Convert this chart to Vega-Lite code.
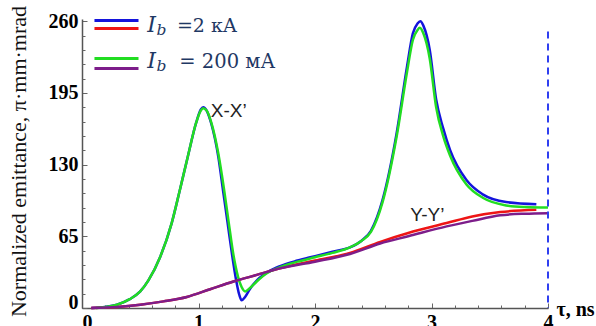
{
  "$schema": "https://vega.github.io/schema/vega-lite/v6.json",
  "width": 466,
  "height": 289,
  "autosize": "none",
  "padding": {"left": 82, "top": 19, "right": 48, "bottom": 18},
  "background": "white",
  "config": {"view": {"stroke": null}, "axis": {"grid": false}},
  "resolve": {"axis": {"x": "independent", "y": "independent"}},
  "layer": [
    {
      "data": {"values": [
        {"series": "2 kA X-X'", "tau": 0.08, "emittance": 0},
        {"series": "2 kA X-X'", "tau": 0.2, "emittance": 1},
        {"series": "2 kA X-X'", "tau": 0.3, "emittance": 3},
        {"series": "2 kA X-X'", "tau": 0.41, "emittance": 8},
        {"series": "2 kA X-X'", "tau": 0.5, "emittance": 15},
        {"series": "2 kA X-X'", "tau": 0.57, "emittance": 25},
        {"series": "2 kA X-X'", "tau": 0.67, "emittance": 46},
        {"series": "2 kA X-X'", "tau": 0.77, "emittance": 77},
        {"series": "2 kA X-X'", "tau": 0.84, "emittance": 107},
        {"series": "2 kA X-X'", "tau": 0.91, "emittance": 138},
        {"series": "2 kA X-X'", "tau": 0.98, "emittance": 168},
        {"series": "2 kA X-X'", "tau": 1.02, "emittance": 180},
        {"series": "2 kA X-X'", "tau": 1.04, "emittance": 182},
        {"series": "2 kA X-X'", "tau": 1.07, "emittance": 179},
        {"series": "2 kA X-X'", "tau": 1.11, "emittance": 167},
        {"series": "2 kA X-X'", "tau": 1.17, "emittance": 137},
        {"series": "2 kA X-X'", "tau": 1.21, "emittance": 107},
        {"series": "2 kA X-X'", "tau": 1.25, "emittance": 77},
        {"series": "2 kA X-X'", "tau": 1.29, "emittance": 47},
        {"series": "2 kA X-X'", "tau": 1.32, "emittance": 27},
        {"series": "2 kA X-X'", "tau": 1.35, "emittance": 12},
        {"series": "2 kA X-X'", "tau": 1.37, "emittance": 7},
        {"series": "2 kA X-X'", "tau": 1.4, "emittance": 10},
        {"series": "2 kA X-X'", "tau": 1.44, "emittance": 17},
        {"series": "2 kA X-X'", "tau": 1.52, "emittance": 27},
        {"series": "2 kA X-X'", "tau": 1.6, "emittance": 33},
        {"series": "2 kA X-X'", "tau": 1.7, "emittance": 38},
        {"series": "2 kA X-X'", "tau": 1.85, "emittance": 43},
        {"series": "2 kA X-X'", "tau": 2.0, "emittance": 47},
        {"series": "2 kA X-X'", "tau": 2.15, "emittance": 51},
        {"series": "2 kA X-X'", "tau": 2.3, "emittance": 55},
        {"series": "2 kA X-X'", "tau": 2.4, "emittance": 61},
        {"series": "2 kA X-X'", "tau": 2.48, "emittance": 70},
        {"series": "2 kA X-X'", "tau": 2.58, "emittance": 98},
        {"series": "2 kA X-X'", "tau": 2.7, "emittance": 158},
        {"series": "2 kA X-X'", "tau": 2.79, "emittance": 219},
        {"series": "2 kA X-X'", "tau": 2.84, "emittance": 249},
        {"series": "2 kA X-X'", "tau": 2.88, "emittance": 258},
        {"series": "2 kA X-X'", "tau": 2.905, "emittance": 260},
        {"series": "2 kA X-X'", "tau": 2.93, "emittance": 256},
        {"series": "2 kA X-X'", "tau": 2.985, "emittance": 234},
        {"series": "2 kA X-X'", "tau": 3.04, "emittance": 189},
        {"series": "2 kA X-X'", "tau": 3.1, "emittance": 163},
        {"series": "2 kA X-X'", "tau": 3.16, "emittance": 143},
        {"series": "2 kA X-X'", "tau": 3.3, "emittance": 116},
        {"series": "2 kA X-X'", "tau": 3.44, "emittance": 103},
        {"series": "2 kA X-X'", "tau": 3.64, "emittance": 96},
        {"series": "2 kA X-X'", "tau": 3.9, "emittance": 94},

        {"series": "2 kA Y-Y'", "tau": 0.08, "emittance": 0},
        {"series": "2 kA Y-Y'", "tau": 0.3, "emittance": 1},
        {"series": "2 kA Y-Y'", "tau": 0.5, "emittance": 3},
        {"series": "2 kA Y-Y'", "tau": 0.7, "emittance": 6},
        {"series": "2 kA Y-Y'", "tau": 0.9, "emittance": 10},
        {"series": "2 kA Y-Y'", "tau": 1.1, "emittance": 17},
        {"series": "2 kA Y-Y'", "tau": 1.3, "emittance": 24},
        {"series": "2 kA Y-Y'", "tau": 1.5, "emittance": 30},
        {"series": "2 kA Y-Y'", "tau": 1.7, "emittance": 36},
        {"series": "2 kA Y-Y'", "tau": 2.0, "emittance": 43},
        {"series": "2 kA Y-Y'", "tau": 2.3, "emittance": 50},
        {"series": "2 kA Y-Y'", "tau": 2.56, "emittance": 60},
        {"series": "2 kA Y-Y'", "tau": 2.8, "emittance": 68},
        {"series": "2 kA Y-Y'", "tau": 3.13, "emittance": 77},
        {"series": "2 kA Y-Y'", "tau": 3.35, "emittance": 83},
        {"series": "2 kA Y-Y'", "tau": 3.59, "emittance": 87},
        {"series": "2 kA Y-Y'", "tau": 3.9, "emittance": 89},

        {"series": "200 mA X-X'", "tau": 0.12, "emittance": 0},
        {"series": "200 mA X-X'", "tau": 0.2, "emittance": 1},
        {"series": "200 mA X-X'", "tau": 0.3, "emittance": 3},
        {"series": "200 mA X-X'", "tau": 0.41, "emittance": 8},
        {"series": "200 mA X-X'", "tau": 0.5, "emittance": 15},
        {"series": "200 mA X-X'", "tau": 0.57, "emittance": 25},
        {"series": "200 mA X-X'", "tau": 0.67, "emittance": 46},
        {"series": "200 mA X-X'", "tau": 0.77, "emittance": 77},
        {"series": "200 mA X-X'", "tau": 0.84, "emittance": 107},
        {"series": "200 mA X-X'", "tau": 0.91, "emittance": 138},
        {"series": "200 mA X-X'", "tau": 0.98, "emittance": 168},
        {"series": "200 mA X-X'", "tau": 1.02, "emittance": 179},
        {"series": "200 mA X-X'", "tau": 1.04, "emittance": 181},
        {"series": "200 mA X-X'", "tau": 1.07, "emittance": 179},
        {"series": "200 mA X-X'", "tau": 1.11, "emittance": 168},
        {"series": "200 mA X-X'", "tau": 1.17, "emittance": 140},
        {"series": "200 mA X-X'", "tau": 1.22, "emittance": 107},
        {"series": "200 mA X-X'", "tau": 1.26, "emittance": 77},
        {"series": "200 mA X-X'", "tau": 1.3, "emittance": 48},
        {"series": "200 mA X-X'", "tau": 1.34, "emittance": 28},
        {"series": "200 mA X-X'", "tau": 1.37, "emittance": 19},
        {"series": "200 mA X-X'", "tau": 1.4, "emittance": 15},
        {"series": "200 mA X-X'", "tau": 1.44, "emittance": 18},
        {"series": "200 mA X-X'", "tau": 1.5, "emittance": 24},
        {"series": "200 mA X-X'", "tau": 1.58, "emittance": 31},
        {"series": "200 mA X-X'", "tau": 1.7, "emittance": 37},
        {"series": "200 mA X-X'", "tau": 1.85, "emittance": 42},
        {"series": "200 mA X-X'", "tau": 2.0, "emittance": 46},
        {"series": "200 mA X-X'", "tau": 2.15, "emittance": 50},
        {"series": "200 mA X-X'", "tau": 2.3, "emittance": 55},
        {"series": "200 mA X-X'", "tau": 2.4, "emittance": 61},
        {"series": "200 mA X-X'", "tau": 2.48, "emittance": 69},
        {"series": "200 mA X-X'", "tau": 2.58, "emittance": 96},
        {"series": "200 mA X-X'", "tau": 2.7, "emittance": 155},
        {"series": "200 mA X-X'", "tau": 2.79, "emittance": 214},
        {"series": "200 mA X-X'", "tau": 2.84, "emittance": 243},
        {"series": "200 mA X-X'", "tau": 2.88, "emittance": 252},
        {"series": "200 mA X-X'", "tau": 2.9, "emittance": 254},
        {"series": "200 mA X-X'", "tau": 2.93, "emittance": 249},
        {"series": "200 mA X-X'", "tau": 2.985, "emittance": 226},
        {"series": "200 mA X-X'", "tau": 3.04, "emittance": 182},
        {"series": "200 mA X-X'", "tau": 3.1, "emittance": 156},
        {"series": "200 mA X-X'", "tau": 3.16, "emittance": 138},
        {"series": "200 mA X-X'", "tau": 3.3, "emittance": 112},
        {"series": "200 mA X-X'", "tau": 3.44, "emittance": 100},
        {"series": "200 mA X-X'", "tau": 3.64, "emittance": 93},
        {"series": "200 mA X-X'", "tau": 3.8, "emittance": 91.5},
        {"series": "200 mA X-X'", "tau": 4.0, "emittance": 91},

        {"series": "200 mA Y-Y'", "tau": 0.08, "emittance": 0},
        {"series": "200 mA Y-Y'", "tau": 0.3, "emittance": 1},
        {"series": "200 mA Y-Y'", "tau": 0.5, "emittance": 3},
        {"series": "200 mA Y-Y'", "tau": 0.7, "emittance": 6},
        {"series": "200 mA Y-Y'", "tau": 0.9, "emittance": 10},
        {"series": "200 mA Y-Y'", "tau": 1.1, "emittance": 17},
        {"series": "200 mA Y-Y'", "tau": 1.3, "emittance": 24},
        {"series": "200 mA Y-Y'", "tau": 1.5, "emittance": 30},
        {"series": "200 mA Y-Y'", "tau": 1.7, "emittance": 36},
        {"series": "200 mA Y-Y'", "tau": 2.0, "emittance": 42},
        {"series": "200 mA Y-Y'", "tau": 2.3, "emittance": 49},
        {"series": "200 mA Y-Y'", "tau": 2.56, "emittance": 58.5},
        {"series": "200 mA Y-Y'", "tau": 2.8, "emittance": 65},
        {"series": "200 mA Y-Y'", "tau": 3.13, "emittance": 74},
        {"series": "200 mA Y-Y'", "tau": 3.35, "emittance": 79},
        {"series": "200 mA Y-Y'", "tau": 3.59, "emittance": 84},
        {"series": "200 mA Y-Y'", "tau": 3.8, "emittance": 85.5},
        {"series": "200 mA Y-Y'", "tau": 4.0, "emittance": 86}
      ]},
      "mark": {"type": "line", "strokeWidth": 2.5, "interpolate": "monotone"},
      "encoding": {
        "x": {
          "field": "tau", "type": "quantitative",
          "scale": {"domain": [0, 4], "nice": false, "zero": false},
          "axis": {
            "orient": "bottom",
            "values": [0, 1, 2, 3, 4],
            "format": "d",
            "grid": false,
            "domainColor": "#555", "domainWidth": 1.5,
            "tickColor": "#666", "tickWidth": 1, "tickSize": -5,
            "labelFont": "Liberation Serif", "labelFontWeight": "bold", "labelFontSize": 20, "labelColor": "black",
            "labelPadding": 9, "labelOverlap": false, "labelFlush": false,
            "labelOffset": {"condition": {"test": "datum.value === 0", "value": 5}, "value": 0},
            "title": "τ, ns",
            "titleFont": "Liberation Serif", "titleFontWeight": "bold", "titleFontSize": 20, "titleColor": "black",
            "titleX": 474, "titleY": 7, "titleAlign": "left", "titleBaseline": "alphabetic", "titleAngle": 0
          }
        },
        "y": {
          "field": "emittance", "type": "quantitative",
          "scale": {"domain": [0, 262], "nice": false, "zero": false},
          "axis": {
            "orient": "left",
            "values": [0, 65, 130, 195, 260],
            "format": "d",
            "grid": false,
            "domainColor": "#555", "domainWidth": 1.5,
            "tickColor": "#666", "tickWidth": 1, "tickSize": -5,
            "labelFont": "Liberation Serif", "labelFontWeight": "bold", "labelFontSize": 20, "labelColor": "black",
            "labelPadding": 9, "labelOverlap": false, "labelFlush": false,
            "labelOffset": {"condition": {"test": "datum.value === 0", "value": -6}, "value": 0},
            "title": "Normalized emittance, π·mm·mrad",
            "titleFont": "Liberation Serif", "titleFontWeight": "normal", "titleFontSize": 22, "titleColor": "#111",
            "titleX": -57, "titleY": 142, "titleAngle": -90, "titleAlign": "center", "titleBaseline": "alphabetic"
          }
        },
        "color": {
          "field": "series", "type": "nominal",
          "scale": {"domain": ["2 kA X-X'", "2 kA Y-Y'", "200 mA X-X'", "200 mA Y-Y'"], "range": ["#1414dc", "#ee1515", "#22dd22", "#7d1d8a"]},
          "legend": null
        }
      }
    },
    {
      "data": {"values": [{}]},
      "mark": {"type": "rule", "color": "#2f3ff0", "strokeWidth": 2, "strokeDash": [7, 5]},
      "encoding": {
        "x": {"datum": 4, "type": "quantitative", "axis": {"orient": "bottom", "values": [0.2, 0.4, 0.6, 0.8, 1.2, 1.4, 1.6, 1.8, 2.2, 2.4, 2.6, 2.8, 3.2, 3.4, 3.6, 3.8], "domain": false, "labels": false, "title": null, "grid": false, "tickSize": -3, "tickColor": "#666", "tickWidth": 1}},
        "y": {"datum": 250.6, "type": "quantitative", "axis": {"orient": "left", "values": [13, 26, 39, 52, 78, 91, 104, 117, 143, 156, 169, 182, 208, 221, 234, 247], "domain": false, "labels": false, "title": null, "grid": false, "tickSize": -3, "tickColor": "#666", "tickWidth": 1}},
        "y2": {"datum": 0}
      }
    },
    {
      "data": {"values": [{}]},
      "mark": {"type": "rule", "color": "#1414dc", "strokeWidth": 3},
      "encoding": {
        "x": {"datum": 0.107, "type": "quantitative", "axis": {"orient": "bottom", "domain": false, "ticks": false, "labels": false, "title": null, "grid": false}},
        "x2": {"datum": 0.485},
        "y": {"datum": 260.6, "type": "quantitative", "axis": {"orient": "left", "domain": false, "ticks": false, "labels": false, "title": null, "grid": false}}
      }
    },
    {
      "data": {"values": [{}]},
      "mark": {"type": "rule", "color": "#ee1515", "strokeWidth": 3},
      "encoding": {
        "x": {"datum": 0.107, "type": "quantitative", "axis": {"orient": "bottom", "domain": false, "ticks": false, "labels": false, "title": null, "grid": false}},
        "x2": {"datum": 0.485},
        "y": {"datum": 253.3, "type": "quantitative", "axis": {"orient": "left", "domain": false, "ticks": false, "labels": false, "title": null, "grid": false}}
      }
    },
    {
      "data": {"values": [{}]},
      "mark": {"type": "rule", "color": "#22dd22", "strokeWidth": 3},
      "encoding": {
        "x": {"datum": 0.107, "type": "quantitative", "axis": {"orient": "bottom", "domain": false, "ticks": false, "labels": false, "title": null, "grid": false}},
        "x2": {"datum": 0.485},
        "y": {"datum": 226.1, "type": "quantitative", "axis": {"orient": "left", "domain": false, "ticks": false, "labels": false, "title": null, "grid": false}}
      }
    },
    {
      "data": {"values": [{}]},
      "mark": {"type": "rule", "color": "#7d1d8a", "strokeWidth": 3},
      "encoding": {
        "x": {"datum": 0.107, "type": "quantitative", "axis": {"orient": "bottom", "domain": false, "ticks": false, "labels": false, "title": null, "grid": false}},
        "x2": {"datum": 0.485},
        "y": {"datum": 217.1, "type": "quantitative", "axis": {"orient": "left", "domain": false, "ticks": false, "labels": false, "title": null, "grid": false}}
      }
    },
    {
      "data": {"values": [{}]},
      "mark": {"type": "text", "text": "I", "font": "DejaVu Serif", "fontStyle": "italic", "fontSize": 22, "color": "#1f3864", "align": "left", "baseline": "alphabetic"},
      "encoding": {
        "x": {"datum": 0.56, "type": "quantitative", "axis": {"orient": "bottom", "domain": false, "ticks": false, "labels": false, "title": null, "grid": false}},
        "y": {"datum": 250.6, "type": "quantitative", "axis": {"orient": "left", "domain": false, "ticks": false, "labels": false, "title": null, "grid": false}}
      }
    },
    {
      "data": {"values": [{}]},
      "mark": {"type": "text", "text": "b", "font": "DejaVu Serif", "fontStyle": "italic", "fontSize": 15.5, "color": "#1f3864", "align": "left", "baseline": "alphabetic"},
      "encoding": {
        "x": {"datum": 0.64, "type": "quantitative", "axis": {"orient": "bottom", "domain": false, "ticks": false, "labels": false, "title": null, "grid": false}},
        "y": {"datum": 247.9, "type": "quantitative", "axis": {"orient": "left", "domain": false, "ticks": false, "labels": false, "title": null, "grid": false}}
      }
    },
    {
      "data": {"values": [{}]},
      "mark": {"type": "text", "text": "=2 кА", "font": "DejaVu Serif", "fontSize": 19, "color": "#1f3864", "align": "left", "baseline": "alphabetic"},
      "encoding": {
        "x": {"datum": 0.815, "type": "quantitative", "axis": {"orient": "bottom", "domain": false, "ticks": false, "labels": false, "title": null, "grid": false}},
        "y": {"datum": 250.6, "type": "quantitative", "axis": {"orient": "left", "domain": false, "ticks": false, "labels": false, "title": null, "grid": false}}
      }
    },
    {
      "data": {"values": [{}]},
      "mark": {"type": "text", "text": "I", "font": "DejaVu Serif", "fontStyle": "italic", "fontSize": 22, "color": "#1f3864", "align": "left", "baseline": "alphabetic"},
      "encoding": {
        "x": {"datum": 0.56, "type": "quantitative", "axis": {"orient": "bottom", "domain": false, "ticks": false, "labels": false, "title": null, "grid": false}},
        "y": {"datum": 217.6, "type": "quantitative", "axis": {"orient": "left", "domain": false, "ticks": false, "labels": false, "title": null, "grid": false}}
      }
    },
    {
      "data": {"values": [{}]},
      "mark": {"type": "text", "text": "b", "font": "DejaVu Serif", "fontStyle": "italic", "fontSize": 15.5, "color": "#1f3864", "align": "left", "baseline": "alphabetic"},
      "encoding": {
        "x": {"datum": 0.64, "type": "quantitative", "axis": {"orient": "bottom", "domain": false, "ticks": false, "labels": false, "title": null, "grid": false}},
        "y": {"datum": 214.6, "type": "quantitative", "axis": {"orient": "left", "domain": false, "ticks": false, "labels": false, "title": null, "grid": false}}
      }
    },
    {
      "data": {"values": [{}]},
      "mark": {"type": "text", "text": "= 200 мА", "font": "DejaVu Serif", "fontSize": 19.5, "color": "#1f3864", "align": "left", "baseline": "alphabetic"},
      "encoding": {
        "x": {"datum": 0.835, "type": "quantitative", "axis": {"orient": "bottom", "domain": false, "ticks": false, "labels": false, "title": null, "grid": false}},
        "y": {"datum": 217.6, "type": "quantitative", "axis": {"orient": "left", "domain": false, "ticks": false, "labels": false, "title": null, "grid": false}}
      }
    },
    {
      "data": {"values": [{}]},
      "mark": {"type": "text", "text": "X-X’", "font": "Liberation Sans", "fontSize": 19, "color": "#222", "align": "center", "baseline": "middle"},
      "encoding": {
        "x": {"datum": 1.26, "type": "quantitative", "axis": {"orient": "bottom", "domain": false, "ticks": false, "labels": false, "title": null, "grid": false}},
        "y": {"datum": 179, "type": "quantitative", "axis": {"orient": "left", "domain": false, "ticks": false, "labels": false, "title": null, "grid": false}}
      }
    },
    {
      "data": {"values": [{}]},
      "mark": {"type": "text", "text": "Y-Y’", "font": "Liberation Sans", "fontSize": 19, "color": "#222", "align": "center", "baseline": "middle"},
      "encoding": {
        "x": {"datum": 2.964, "type": "quantitative", "axis": {"orient": "bottom", "domain": false, "ticks": false, "labels": false, "title": null, "grid": false}},
        "y": {"datum": 84.7, "type": "quantitative", "axis": {"orient": "left", "domain": false, "ticks": false, "labels": false, "title": null, "grid": false}}
      }
    }
  ]
}
